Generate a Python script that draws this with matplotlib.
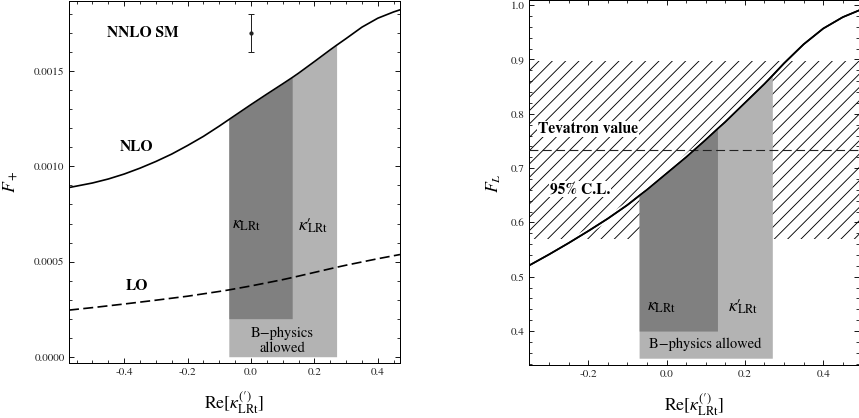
import numpy as np
import matplotlib
matplotlib.use("Agg")
import matplotlib.pyplot as plt
from matplotlib.ticker import MultipleLocator, FormatStrFormatter
import matplotlib.patheffects as pe

plt.rcParams['font.family'] = ['STIXGeneral', 'DejaVu Serif']
plt.rcParams['mathtext.fontset'] = 'stix'
plt.rcParams['hatch.linewidth'] = 0.8

# ---------------- data (left panel: F_+) ----------------
nlo_x = [-0.574, -0.5, -0.45, -0.4, -0.35, -0.3, -0.25, -0.2, -0.15, -0.1, -0.07,
         0.0, 0.05, 0.1, 0.13, 0.15, 0.2, 0.25, 0.27, 0.3, 0.35, 0.4, 0.45, 0.47]
nlo_y = [0.000889, 0.000913, 0.000934, 0.000960, 0.000991, 0.001026, 0.001065, 0.001110,
         0.001158, 0.001212, 0.001246, 0.001325, 0.001380, 0.001434, 0.001467, 0.001490,
         0.001551, 0.001613, 0.001637, 0.001672, 0.001732, 0.001779, 0.001812, 0.001823]
lo_x = [-0.574, -0.5, -0.4, -0.3, -0.2, -0.1, -0.07, 0.0, 0.1, 0.13, 0.2, 0.27, 0.3, 0.4, 0.47]
lo_y = [0.000245, 0.000258, 0.000277, 0.000297, 0.000318, 0.000343, 0.000351, 0.000372,
        0.000405, 0.000416, 0.000443, 0.000470, 0.000481, 0.000515, 0.000537]
nnlo_x = 0.0
nnlo_val = 0.0017
nnlo_err = 0.0001

# ---------------- data (right panel: F_L) ----------------
fl_x = [-0.35, -0.3, -0.25, -0.2, -0.15, -0.1, -0.07, -0.05, 0.0, 0.05, 0.1, 0.13, 0.15,
        0.2, 0.25, 0.27, 0.3, 0.35, 0.4, 0.45, 0.49]
fl_y = [0.521, 0.541, 0.562, 0.584, 0.607, 0.632, 0.649, 0.660, 0.690, 0.720, 0.752, 0.772,
        0.785, 0.820, 0.855, 0.870, 0.893, 0.928, 0.957, 0.978, 0.990]
tevatron_val = 0.733
tevatron_err = 0.164

# allowed ranges from B-physics
kappa_lo, kappa_hi = -0.07, 0.13
kappa_prime_lo, kappa_prime_hi = -0.07, 0.27
left_kappa_bottom, left_prime_bottom = 0.0002, 0.0
right_kappa_bottom, right_prime_bottom = 0.40, 0.35

dark = '#808080'
light = '#b3b3b3'

W, H, DPI = 859, 418, 80
fig = plt.figure(figsize=(W / DPI, H / DPI), dpi=DPI)

def px_axes(l, r, t, b):
    return fig.add_axes([l / W, 1 - b / H, (r - l) / W, (b - t) / H])

axL = px_axes(69, 400, 0.5, 363)
axR = px_axes(529, 858.5, 0.5, 365)

def style(ax):
    ax.tick_params(which='both', direction='in', top=True, right=True,
                   labelsize=10, color='black', labelcolor='#222222', pad=4)
    ax.tick_params(which='major', length=4.2, width=0.8)
    ax.tick_params(which='minor', length=2.5, width=0.7)
    for s in ax.spines.values():
        s.set_linewidth(0.9)

def fill_region(ax, xs, ys, lo, hi, bottom, color, z):
    xs = np.asarray(xs); ys = np.asarray(ys)
    m = (xs >= lo - 1e-9) & (xs <= hi + 1e-9)
    ax.fill_between(xs[m], bottom, ys[m], color=color, linewidth=0, zorder=z)

kappa_txt = r'$\kappa_{\mathrm{LRt}}$'
kappa_p_txt = '$\\kappa\u2032\\!\\!_{\\mathrm{LRt}}$'
xlabel_txt = '$\\mathrm{Re}[\\kappa^{(\u2032)}_{\\mathrm{LRt}}]$'

# ---------------- left panel ----------------
ax = axL
fill_region(ax, nlo_x, nlo_y, kappa_prime_lo, kappa_prime_hi, left_prime_bottom, light, 2)
fill_region(ax, nlo_x, nlo_y, kappa_lo, kappa_hi, left_kappa_bottom, dark, 3)
ax.plot(nlo_x, nlo_y, color='black', lw=1.5, zorder=5)
ax.plot(lo_x, lo_y, color='black', lw=1.5, dashes=(6, 2.6), zorder=5)
ax.errorbar([nnlo_x], [nnlo_val], yerr=[nnlo_err], fmt='o', ms=2.8, color='#222222',
            elinewidth=0.9, capsize=2.8, capthick=0.9, zorder=6)
ax.set_xlim(-0.574, 0.470)
ax.set_ylim(-0.000033, 0.001872)
ax.xaxis.set_major_locator(MultipleLocator(0.2))
ax.xaxis.set_minor_locator(MultipleLocator(0.05))
ax.yaxis.set_major_locator(MultipleLocator(0.0005))
ax.yaxis.set_minor_locator(MultipleLocator(0.0001))
ax.xaxis.set_major_formatter(FormatStrFormatter('%.1f'))
ax.yaxis.set_major_formatter(FormatStrFormatter('%.4f'))
style(ax)
ax.text(-0.34, 0.0017, 'NNLO SM', fontsize=14, fontweight='bold', ha='center', va='center')
ax.text(-0.36, 0.0011, 'NLO', fontsize=14, fontweight='bold', ha='center', va='center')
ax.text(-0.36, 0.00037, 'LO', fontsize=14, fontweight='bold', ha='center', va='center')
ax.text(-0.013, 0.00069, kappa_txt, fontsize=16, ha='center', va='center', zorder=7)
ax.text(0.196, 0.00069, kappa_p_txt, fontsize=16, ha='center', va='center', zorder=7)
ax.text(0.099, 0.000083, 'B\u2212physics\nallowed', fontsize=13, ha='center', va='center',
        linespacing=1.15, zorder=7)
ax.set_ylabel(r'$F_+$', fontsize=16)
ax.yaxis.set_label_coords(-0.148, 0.5)
ax.set_xlabel(xlabel_txt, fontsize=16)
ax.xaxis.set_label_coords(0.5, -0.075)

# ---------------- right panel ----------------
ax = axR
ax.axhspan(tevatron_val - tevatron_err, tevatron_val + tevatron_err, facecolor='none',
           edgecolor='black', hatch='//', linewidth=0, zorder=1)
ax.plot(fl_x, fl_y, color='black', lw=1.5, zorder=2,
        path_effects=[pe.Stroke(linewidth=5, foreground='white'), pe.Normal()])
fill_region(ax, fl_x, fl_y, kappa_prime_lo, kappa_prime_hi, right_prime_bottom, light, 3)
fill_region(ax, fl_x, fl_y, kappa_lo, kappa_hi, right_kappa_bottom, dark, 4)
ax.axhline(tevatron_val, color='#222222', lw=1.0, dashes=(8, 4), zorder=5)
ax.plot(fl_x, fl_y, color='black', lw=1.5, zorder=6)
ax.set_xlim(-0.351, 0.490)
ax.set_ylim(0.3375, 1.0086)
ax.xaxis.set_major_locator(MultipleLocator(0.2))
ax.xaxis.set_minor_locator(MultipleLocator(0.05))
ax.yaxis.set_major_locator(MultipleLocator(0.1))
ax.yaxis.set_minor_locator(MultipleLocator(0.02))
ax.xaxis.set_major_formatter(FormatStrFormatter('%.1f'))
ax.yaxis.set_major_formatter(FormatStrFormatter('%.1f'))
style(ax)
bb = dict(facecolor='white', edgecolor='none', pad=1.0)
ax.text(-0.2, 0.772, 'Tevatron value', fontsize=14, fontweight='bold', ha='center',
        va='center', bbox=bb, zorder=7)
ax.text(-0.221, 0.661, '95% C.L.', fontsize=14, fontweight='bold', ha='center',
        va='center', bbox=bb, zorder=7)
ax.text(-0.013, 0.445, kappa_txt, fontsize=16, ha='center', va='center', zorder=7)
ax.text(0.197, 0.445, kappa_p_txt, fontsize=16, ha='center', va='center', zorder=7)
ax.text(0.0985, 0.376, 'B\u2212physics allowed', fontsize=13, ha='center', va='center', zorder=7)
ax.set_ylabel(r'$F_L$', fontsize=16)
ax.yaxis.set_label_coords(-0.079, 0.5)
ax.set_xlabel(xlabel_txt, fontsize=16)
ax.xaxis.set_label_coords(0.5, -0.075)

fig.savefig('out.png', dpi=DPI)
